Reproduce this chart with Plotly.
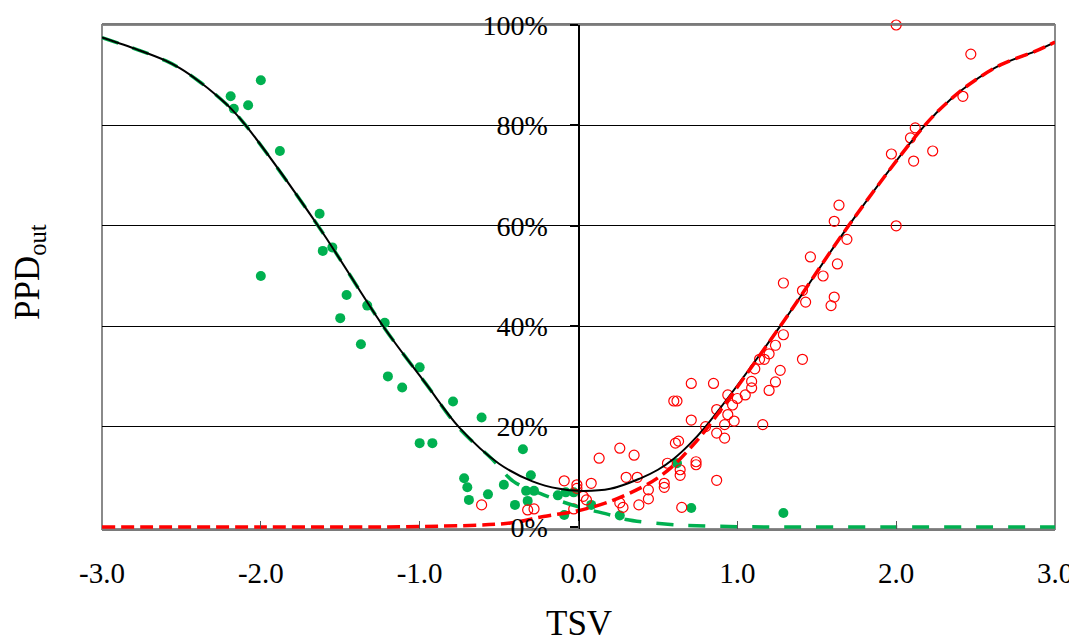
import plotly.graph_objects as go

# ---- data ----
cold_x = [-2.19, -2.17, -2.08, -2.00, -1.88, -2.00, -1.63, -1.61, -1.55, -1.46, -1.50,
          -1.33, -1.22, -1.37, -1.00, -1.20, -1.11, -0.79, -0.61, -1.00, -0.92, -0.35,
          -0.72, -0.30, -0.70, -0.47, -0.57, -0.69, -0.33, -0.28, -0.32, -0.40, -0.13,
          -0.08, -0.03, -0.09, 0.08, 0.26, 0.62, 0.71, 1.29]
cold_y = [85.8, 83.3, 84.0, 89.0, 74.9, 50.0, 62.4, 55.0, 55.7, 46.2, 41.6,
          44.1, 40.7, 36.4, 31.8, 30.0, 27.8, 25.0, 21.8, 16.7, 16.7, 15.5,
          9.7, 10.3, 7.9, 8.4, 6.5, 5.4, 7.2, 7.2, 5.2, 4.4, 6.3,
          6.9, 6.9, 2.4, 4.4, 2.3, 12.7, 3.8, 2.8]

warm_x = [-0.61, -0.32, -0.28, -0.09, -0.01, -0.01, -0.03, 0.03, 0.05, 0.08, 0.13,
          0.26, 0.35, 0.30, 0.37, 0.26, 0.28, 0.38, 0.44, 0.44, 0.54, 0.54, 0.56,
          0.60, 0.62, 0.63, 0.61, 0.64, 0.64, 0.65, 0.71, 0.71, 0.74, 0.74, 0.80,
          0.85, 0.87, 0.87, 0.87, 0.92, 0.92, 0.94, 0.94, 0.97, 0.98, 1.00, 1.05,
          1.09, 1.09, 1.11, 1.14, 1.17, 1.16, 1.20, 1.20, 1.24, 1.24, 1.27, 1.29,
          1.29, 1.41, 1.41, 1.43, 1.46, 1.54, 1.59, 1.61, 1.61, 1.63, 1.64, 1.69,
          1.97, 2.00, 2.00, 2.09, 2.11, 2.12, 2.23, 2.42, 2.47]
warm_y = [4.4, 3.4, 3.6, 9.2, 8.4, 7.7, 3.6, 6.1, 5.4, 8.7, 13.7,
          15.7, 14.3, 9.9, 9.9, 4.8, 3.9, 4.4, 7.4, 5.6, 8.7, 7.9, 12.7,
          25.1, 25.1, 17.1, 16.7, 11.4, 10.3, 3.9, 21.3, 28.6, 13.0, 12.4, 20.0,
          28.6, 9.3, 18.7, 23.4, 17.7, 20.4, 26.3, 22.4, 24.3, 21.1, 25.6, 26.3,
          27.7, 29.0, 31.5, 33.4, 33.4, 20.4, 34.5, 27.2, 36.2, 28.9, 31.2, 38.3,
          48.6, 33.4, 47.1, 44.8, 53.8, 50.0, 44.1, 45.8, 60.9, 52.4, 64.1, 57.3,
          74.3, 60.0, 100.0, 77.5, 72.9, 79.5, 74.9, 85.8, 94.2]

total_x = [-3.0, -2.77, -2.6, -2.51, -2.39, -2.28, -2.18, -2.09, -1.64, -1.23, -0.96,
           -0.75, -0.5, -0.29, -0.12, 0.0, 0.2, 0.39, 0.5, 0.6, 0.7, 0.8, 1.27, 1.7,
           2.18, 2.34, 2.47, 2.66, 2.87, 3.0]
total_y = [97.5, 95.0, 92.9, 91.4, 88.8, 86.0, 83.1, 79.8, 60.0, 40.0, 28.5,
           19.8, 12.6, 9.1, 7.6, 7.2, 7.6, 9.7, 11.4, 13.6, 16.5, 20.0, 40.0, 60.0,
           80.0, 85.1, 88.4, 92.1, 94.7, 96.6]

coldfit_x = [-3.0, -2.77, -2.6, -2.51, -2.39, -2.28, -2.18, -2.09, -1.64, -1.23, -0.96,
             -0.75, -0.54, -0.41, -0.22, -0.01, 0.2, 0.3, 0.58, 0.8, 1.2, 2.0, 3.0]
coldfit_y = [97.5, 95.0, 92.9, 91.4, 88.8, 86.0, 83.1, 79.8, 60.0, 40.0, 28.5,
             19.6, 13.4, 9.1, 6.4, 4.1, 2.4, 1.5, 0.5, 0.2, 0.0, 0.0, 0.0]

warmfit_x = [-3.0, -2.0, -1.0, -0.43, -0.22, -0.01, 0.2, 0.41, 0.5, 0.6, 0.7, 0.8, 1.27,
             1.7, 2.18, 2.34, 2.47, 2.66, 2.87, 3.0]
warmfit_y = [0.0, 0.0, 0.1, 0.8, 2.1, 3.2, 5.1, 8.1, 9.8, 12.3, 15.6, 19.3, 40.0,
             60.0, 80.0, 85.1, 88.4, 92.1, 94.7, 96.6]

x_ticks = [-3, -2, -1, 0, 1, 2, 3]
x_labels = ["-3.0", "-2.0", "-1.0", "0.0", "1.0", "2.0", "3.0"]
y_ticks = [0, 20, 40, 60, 80, 100]
y_labels = ["0%", "20%", "40%", "60%", "80%", "100%"]
y_grid = [20, 40, 60, 80]

GREEN = "#00B050"
RED = "#FF0000"
FONT = "Liberation Serif"

fig = go.Figure()
fig.add_trace(go.Scatter(x=cold_x, y=cold_y, mode="markers", cliponaxis=False,
                         marker=dict(color=GREEN, size=10, line=dict(width=0))))
fig.add_trace(go.Scatter(x=warm_x, y=warm_y, mode="markers", cliponaxis=False,
                         marker=dict(symbol="circle-open", color=RED, size=10,
                                     line=dict(width=1.2, color=RED))))
fig.add_trace(go.Scatter(x=coldfit_x, y=coldfit_y, mode="lines",
                         line=dict(color=GREEN, width=3.5, dash="17px,15px",
                                   shape="spline", smoothing=1.0)))
fig.add_trace(go.Scatter(x=total_x, y=total_y, mode="lines",
                         line=dict(color="black", width=2, shape="spline", smoothing=1.0)))
fig.add_trace(go.Scatter(x=warmfit_x, y=warmfit_y, mode="lines",
                         line=dict(color=RED, width=3.5, dash="13px,6px",
                                   shape="spline", smoothing=1.0)))

# page body has an 8px margin, so the figure is sized/offset to compensate
fig.update_layout(
    width=1069, height=632,
    margin=dict(l=94, r=22, t=17, b=111),
    paper_bgcolor="white", plot_bgcolor="white",
    showlegend=False,
    font=dict(family=FONT, color="black", size=28),
    xaxis=dict(range=[-3, 3], tickvals=x_ticks, ticktext=x_labels,
               ticks="inside", ticklen=8, tickwidth=1, tickcolor="#555555",
               showline=True, linecolor="#7a7a7a", linewidth=2, mirror=True,
               showgrid=False, zeroline=False, ticklabelstandoff=17,
               automargin=False, tickfont=dict(family=FONT, size=29)),
    yaxis=dict(range=[-0.4, 100], tickvals=y_ticks, ticktext=y_labels,
               anchor="free", position=0.5, side="left",
               ticks="outside", ticklen=8, tickwidth=2, tickcolor="black",
               showline=True, linecolor="black", linewidth=2,
               showgrid=False, zeroline=False, ticklabelstandoff=16,
               automargin=False,
               minor=dict(tickvals=y_grid, showgrid=True, gridcolor="black",
                          gridwidth=1, ticks=""),
               tickfont=dict(family=FONT, size=28)),
    yaxis2=dict(range=[-0.4, 100], overlaying="y", anchor="free", position=0.5,
                side="right", tickvals=y_ticks, ticks="outside", ticklen=8,
                tickwidth=2, tickcolor="black", showticklabels=False,
                showline=False, showgrid=False, zeroline=False),
    shapes=[dict(type="rect", xref="paper", yref="paper", x0=0, x1=1, y0=0, y1=1,
                 line=dict(color="#8a8a8a", width=2), layer="below")],
    annotations=[
        dict(text="TSV", xref="paper", yref="paper", x=0.5, y=0, yshift=-94,
             showarrow=False, font=dict(family=FONT, size=35), yanchor="middle"),
        dict(text="PPD<sub>out</sub>", xref="paper", yref="paper", x=0, y=0.5,
             xshift=-73, yshift=5, textangle=-90, showarrow=False,
             font=dict(family=FONT, size=35), xanchor="center", yanchor="middle"),
    ],
)

fig.write_html("out.html")
